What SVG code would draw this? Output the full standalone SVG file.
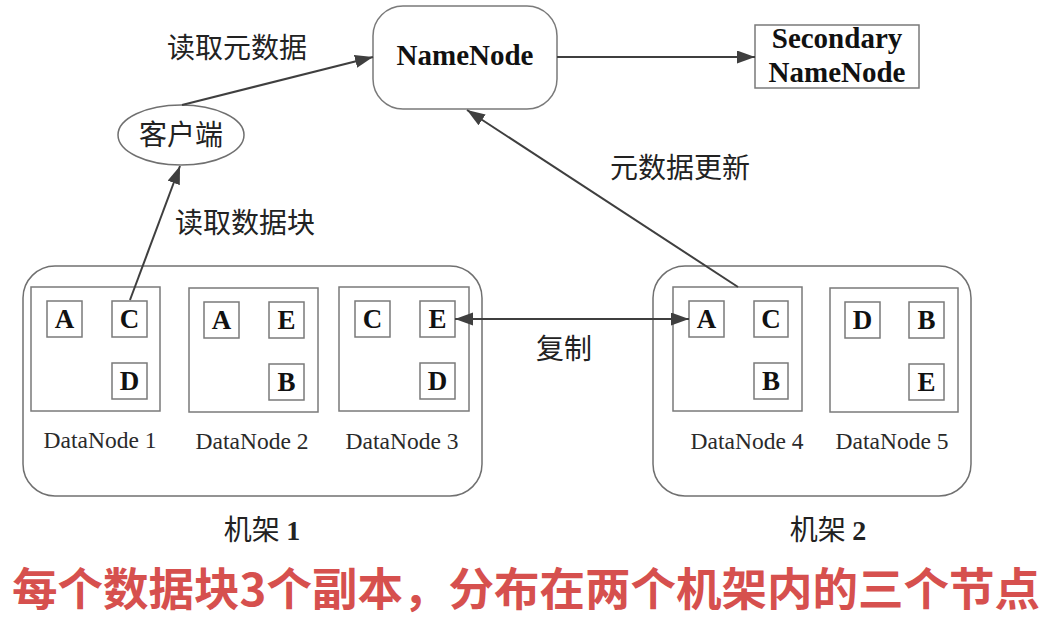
<svg xmlns="http://www.w3.org/2000/svg" width="1048" height="620" viewBox="0 0 1048 620">
<defs>
<marker id="ah" markerUnits="userSpaceOnUse" markerWidth="20" markerHeight="14" refX="18" refY="6.5" orient="auto-start-reverse">
<path d="M0,0 L18,6.5 L0,13 z" fill="#3f3f3f"/>
</marker>
</defs>
<style>
.box{fill:#fff;stroke:#7a7a7a;stroke-width:1.5}
.rack{fill:#fff;stroke:#707070;stroke-width:1.5}
.blk{fill:#fff;stroke:#7a7a7a;stroke-width:1.5}
.bl{font-family:"Liberation Serif",serif;font-weight:bold;font-size:27px;fill:#111;text-anchor:middle}
.dn{font-family:"Liberation Serif",serif;font-size:23.5px;fill:#2a2a2a;text-anchor:middle}
.nn{font-family:"Liberation Serif",serif;font-weight:bold;font-size:29px;fill:#111;text-anchor:middle}
.cn{font-family:"Noto Sans CJK SC",sans-serif;font-size:28px;fill:#222;text-anchor:middle}
.ln{stroke:#3f3f3f;stroke-width:2;fill:none}
</style>
<rect width="1048" height="620" fill="#fff"/>

<g id="rack1">
<rect class="rack" x="23" y="266" width="459" height="230" rx="32"/>
<text class="cn" x="262" y="540">机架 <tspan font-family="Liberation Serif,serif" font-weight="bold">1</tspan></text>
</g>
<g id="rack2">
<rect class="rack" x="653" y="266" width="318" height="230" rx="32"/>
<text class="cn" x="828" y="540">机架 <tspan font-family="Liberation Serif,serif" font-weight="bold">2</tspan></text>
</g>

<g id="namenode">
<rect class="box" x="373" y="6" width="184" height="103" rx="30"/>
<text class="nn" x="465" y="65">NameNode</text>
</g>
<g id="secondary">
<rect class="box" x="755" y="25" width="164" height="63"/>
<text class="nn" x="837" y="48">Secondary</text>
<text class="nn" x="837" y="82">NameNode</text>
</g>
<g id="client">
<ellipse cx="181" cy="135" rx="63" ry="30" fill="#fff" stroke="#707070" stroke-width="1.5"/>
<text class="cn" x="181" y="145">客户端</text>
</g>

<g id="datanode1">
<rect class="box" x="31" y="287" width="129" height="124"/>
<rect class="blk" x="47" y="301" width="35" height="36"/><text class="bl" x="64.5" y="328">A</text>
<rect class="blk" x="112" y="301" width="35" height="36"/><text class="bl" x="129.5" y="328">C</text>
<rect class="blk" x="112" y="363" width="35" height="36"/><text class="bl" x="129.5" y="390">D</text>
<text class="dn" x="100" y="448">DataNode 1</text>
</g>
<g id="datanode2">
<rect class="box" x="189" y="288" width="129" height="124"/>
<rect class="blk" x="204" y="302" width="35" height="36"/><text class="bl" x="221.5" y="329">A</text>
<rect class="blk" x="269" y="302" width="35" height="36"/><text class="bl" x="286.5" y="329">E</text>
<rect class="blk" x="269" y="364" width="35" height="36"/><text class="bl" x="286.5" y="391">B</text>
<text class="dn" x="252" y="449">DataNode 2</text>
</g>
<g id="datanode3">
<rect class="box" x="339" y="287" width="130" height="124"/>
<rect class="blk" x="355" y="301" width="35" height="36"/><text class="bl" x="372.5" y="328">C</text>
<rect class="blk" x="420" y="301" width="35" height="36"/><text class="bl" x="437.5" y="328">E</text>
<rect class="blk" x="420" y="363" width="35" height="36"/><text class="bl" x="437.5" y="390">D</text>
<text class="dn" x="402" y="449">DataNode 3</text>
</g>
<g id="datanode4">
<rect class="box" x="673" y="287" width="129" height="124"/>
<rect class="blk" x="689" y="301" width="35" height="36"/><text class="bl" x="706.5" y="328">A</text>
<rect class="blk" x="754" y="301" width="34" height="36"/><text class="bl" x="771" y="328">C</text>
<rect class="blk" x="754" y="363" width="34" height="36"/><text class="bl" x="771" y="390">B</text>
<text class="dn" x="747" y="449">DataNode 4</text>
</g>
<g id="datanode5">
<rect class="box" x="830" y="288" width="128" height="124"/>
<rect class="blk" x="845" y="302" width="35" height="36"/><text class="bl" x="862.5" y="329">D</text>
<rect class="blk" x="909" y="302" width="35" height="36"/><text class="bl" x="926.5" y="329">B</text>
<rect class="blk" x="909" y="364" width="35" height="36"/><text class="bl" x="926.5" y="391">E</text>
<text class="dn" x="892" y="449">DataNode 5</text>
</g>

<g id="connectors">
<line class="ln" x1="182" y1="105" x2="373" y2="57" marker-end="url(#ah)"/>
<line class="ln" x1="130" y1="300" x2="180" y2="166" marker-end="url(#ah)"/>
<line class="ln" x1="557" y1="57" x2="755" y2="57" marker-end="url(#ah)"/>
<line class="ln" x1="738" y1="287" x2="467" y2="110" marker-end="url(#ah)"/>
<line class="ln" x1="455" y1="319" x2="689" y2="319" marker-start="url(#ah)" marker-end="url(#ah)"/>
<text class="cn" x="237" y="58">读取元数据</text>
<text class="cn" x="245" y="233">读取数据块</text>
<text class="cn" x="680" y="178">元数据更新</text>
<text class="cn" x="564" y="359">复制</text>
</g>

<text x="526" y="606" font-family="Noto Sans CJK SC,sans-serif" font-weight="bold" font-size="45" fill="#d6504e" text-anchor="middle" textLength="1028" lengthAdjust="spacingAndGlyphs">每个数据块3个副本，分布在两个机架内的三个节点</text>
</svg>
